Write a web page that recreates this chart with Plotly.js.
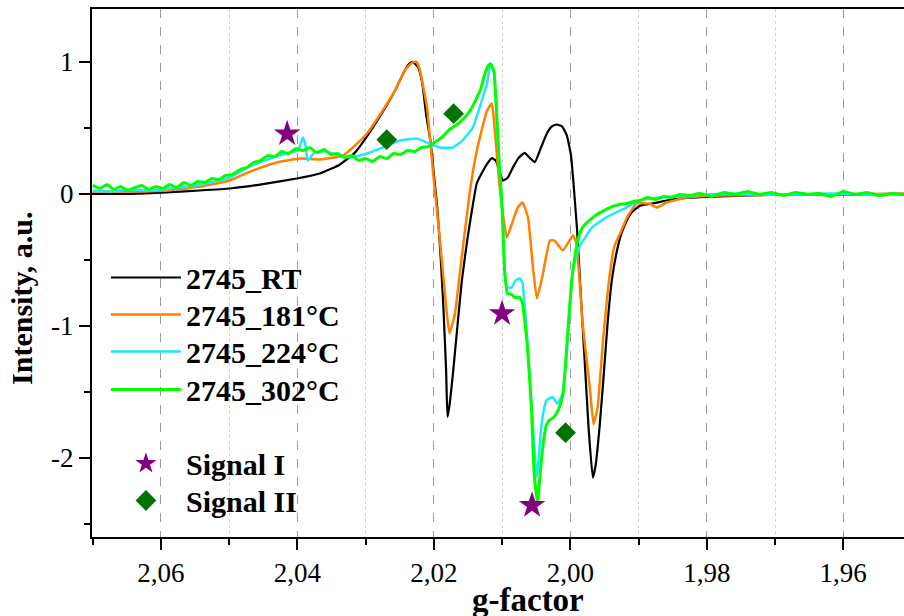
<!DOCTYPE html>
<html>
<head>
<meta charset="utf-8">
<script src="https://cdn.plot.ly/plotly-3.0.1.min.js"></script>
<style>
html,body{margin:0;padding:0;overflow:hidden;background:#fff;}
#chart{width:964px;height:616px;}
</style>
</head>
<body>
<div id="chart"></div>
<script>
// ---- data ----
const seriesNames = ['2745_RT', '2745_181°C', '2745_224°C', '2745_302°C'];
const markerNames = ['Signal I', 'Signal II'];

const gRT = [2.0701,2.0645,2.0600,2.0543,2.0499,2.0455,2.0401,2.0367,2.0338,2.0316,2.0300,2.0275,2.0257,2.0243,2.0235,2.0231,2.0223,2.0217,2.0211,2.0205,2.0199,2.0195,2.0190,2.0186,2.0182,2.0180,2.0177,2.0172,2.0165,2.0159,2.0151,2.0144,2.0137,2.0124,2.0115,2.0109,2.0103,2.0099,2.0092,2.0084,2.0076,2.0067,2.0059,2.0052,2.0043,2.0034,2.0027,2.0020,2.0012,2.0005,1.9999,1.9995,1.9990,1.9985,1.9979,1.9973,1.9967,1.9963,1.9957,1.9951,1.9945,1.9939,1.9932,1.9925,1.9917,1.9910,1.9898,1.9876,1.9854,1.9825,1.9781,1.9722,1.9664,1.9590,1.9511,1.9430];
const iRT = [0.000,0.000,0.008,0.025,0.040,0.070,0.116,0.154,0.220,0.310,0.420,0.620,0.780,0.930,0.990,1.000,0.960,0.840,0.590,0.400,0.100,-0.100,-0.480,-0.860,-1.340,-1.690,-1.600,-1.360,-0.980,-0.660,-0.350,-0.120,0.080,0.210,0.270,0.250,0.160,0.100,0.120,0.200,0.270,0.310,0.270,0.240,0.350,0.460,0.510,0.525,0.510,0.440,0.290,0.060,-0.280,-0.730,-1.260,-1.790,-2.150,-2.060,-1.760,-1.370,-0.960,-0.650,-0.440,-0.300,-0.200,-0.140,-0.090,-0.070,-0.045,-0.030,-0.020,-0.010,-0.005,-0.005,0.000,0.000];

const g181 = [2.0700,2.0645,2.0591,2.0543,2.0499,2.0465,2.0430,2.0396,2.0367,2.0333,2.0319,2.0298,2.0275,2.0257,2.0243,2.0232,2.0226,2.0221,2.0210,2.0201,2.0191,2.0181,2.0177,2.0169,2.0162,2.0147,2.0137,2.0122,2.0115,2.0111,2.0103,2.0093,2.0084,2.0077,2.0070,2.0062,2.0055,2.0049,2.0040,2.0030,2.0023,2.0011,2.0001,1.9996,1.9991,1.9982,1.9971,1.9966,1.9960,1.9952,1.9942,1.9935,1.9927,1.9917,1.9903,1.9884,1.9873,1.9859,1.9829,1.9781,1.9664,1.9511,1.9430];
const i181 = [0.017,0.017,0.025,0.055,0.101,0.177,0.237,0.267,0.260,0.290,0.350,0.457,0.631,0.782,0.933,0.993,1.001,0.949,0.653,0.153,-0.354,-0.906,-1.057,-0.906,-0.603,0.025,0.328,0.631,0.684,0.502,0.025,-0.331,-0.202,-0.104,-0.066,-0.180,-0.543,-0.793,-0.604,-0.354,-0.354,-0.429,-0.354,-0.316,-0.376,-0.982,-1.489,-1.746,-1.618,-1.111,-0.603,-0.391,-0.301,-0.180,-0.074,-0.074,-0.104,-0.066,-0.028,-0.013,-0.005,0.000,0.000];

const g224 = [2.0700,2.0675,2.0646,2.0616,2.0587,2.0558,2.0528,2.0499,2.0470,2.0440,2.0411,2.0399,2.0392,2.0388,2.0385,2.0375,2.0360,2.0338,2.0323,2.0298,2.0275,2.0250,2.0225,2.0210,2.0191,2.0172,2.0158,2.0143,2.0133,2.0122,2.0117,2.0112,2.0109,2.0106,2.0103,2.0100,2.0096,2.0093,2.0086,2.0080,2.0074,2.0070,2.0063,2.0055,2.0049,2.0042,2.0035,2.0026,2.0019,2.0011,2.0004,1.9997,1.9987,1.9968,1.9947,1.9918,1.9898,1.9869,1.9825,1.9767,1.9693,1.9620,1.9512,1.9430];
const i224 = [0.025,0.017,0.033,0.025,0.040,0.055,0.086,0.123,0.207,0.267,0.313,0.328,0.426,0.366,0.252,0.313,0.320,0.290,0.275,0.305,0.351,0.403,0.419,0.388,0.351,0.351,0.403,0.502,0.653,0.835,0.986,0.918,0.706,0.403,0.139,-0.104,-0.581,-0.709,-0.709,-0.656,-0.641,-0.679,-1.111,-1.739,-2.148,-1.739,-1.565,-1.542,-1.588,-1.512,-1.111,-0.603,-0.406,-0.255,-0.179,-0.104,-0.051,-0.028,-0.013,0.002,-0.005,0.002,-0.005,0.000];

const g302 = [2.0700,2.0689,2.0679,2.0669,2.0659,2.0648,2.0638,2.0628,2.0618,2.0607,2.0597,2.0587,2.0577,2.0566,2.0556,2.0546,2.0536,2.0525,2.0515,2.0505,2.0495,2.0484,2.0474,2.0464,2.0454,2.0443,2.0433,2.0423,2.0413,2.0402,2.0392,2.0382,2.0372,2.0361,2.0351,2.0341,2.0331,2.0320,2.0310,2.0300,2.0290,2.0279,2.0269,2.0259,2.0249,2.0238,2.0228,2.0218,2.0208,2.0197,2.0187,2.0177,2.0166,2.0156,2.0146,2.0139,2.0131,2.0126,2.0121,2.0117,2.0112,2.0109,2.0106,2.0103,2.0100,2.0096,2.0092,2.0086,2.0082,2.0074,2.0070,2.0066,2.0063,2.0057,2.0053,2.0048,2.0045,2.0042,2.0038,2.0035,2.0031,2.0026,2.0021,2.0016,2.0011,2.0008,2.0004,2.0001,1.9997,1.9991,1.9987,1.9982,1.9972,1.9961,1.9950,1.9938,1.9928,1.9918,1.9907,1.9898,1.9887,1.9875,1.9863,1.9852,1.9840,1.9825,1.9811,1.9793,1.9775,1.9758,1.9740,1.9723,1.9705,1.9688,1.9670,1.9652,1.9635,1.9617,1.9600,1.9582,1.9565,1.9547,1.9529,1.9512,1.9490,1.9460,1.9430];
const i302 = [0.063,0.040,0.070,0.033,0.055,0.025,0.048,0.063,0.033,0.055,0.040,0.070,0.048,0.086,0.063,0.093,0.086,0.116,0.108,0.139,0.146,0.184,0.199,0.237,0.252,0.290,0.282,0.320,0.305,0.343,0.328,0.351,0.313,0.335,0.298,0.305,0.275,0.290,0.252,0.267,0.245,0.282,0.267,0.305,0.298,0.328,0.320,0.351,0.358,0.396,0.434,0.487,0.525,0.570,0.638,0.706,0.797,0.896,0.964,0.986,0.933,0.706,0.403,0.139,-0.104,-0.603,-0.755,-0.762,-0.785,-0.785,-0.830,-0.997,-1.148,-1.618,-2.117,-2.344,-2.170,-1.996,-1.830,-1.754,-1.716,-1.701,-1.671,-1.618,-1.527,-1.360,-1.073,-0.861,-0.618,-0.406,-0.316,-0.255,-0.202,-0.157,-0.126,-0.096,-0.081,-0.074,-0.058,-0.051,-0.028,-0.043,-0.020,-0.028,-0.005,-0.013,0.002,-0.020,0.010,-0.005,0.017,-0.005,0.010,-0.013,0.010,-0.005,0.002,-0.020,0.017,-0.005,0.010,-0.013,0.002,-0.005,0.012,-0.010,0.004];

const gSignal1 = [2.0415, 2.0100, 2.0056];
const iSignal1 = [0.455, -0.907, -2.36];
const gSignal2 = [2.0269, 2.0171, 2.0007];
const iSignal2 = [0.41, 0.607, -1.81];

const xTickVals = [2.06, 2.04, 2.02, 2.00, 1.98, 1.96];
const xTickText = ['2,06', '2,04', '2,02', '2,00', '1,98', '1,96'];
const xMinorVals = [2.07, 2.05, 2.03, 2.01, 1.99, 1.97, 1.95];
const yTickVals = [-2, -1, 0, 1];
const yTickText = ['-2', '-1', '0', '1'];
const yMinorVals = [-2.5, -1.5, -0.5, 0.5];
const xTitle = 'g-factor';
const yTitle = 'Intensity, a.u.';

// ---- styling ----
const FONT = "'Liberation Serif', 'Times New Roman', Times, serif";
const colors = ['#000000', '#ff8000', '#1ee8ff', '#00ff00'];
const widths = [2.2, 2.5, 2.5, 3];
const xs = [gRT, g181, g224, g302];
const ys = [iRT, i181, i224, i302];
const legendIds = ['legend', 'legend2', 'legend3', 'legend4', 'legend5', 'legend6'];
const legendTops = [0.5407, 0.4706, 0.4006, 0.3286, 0.1884, 0.1184];

const traces = seriesNames.map((n, k) => ({
  type: 'scatter', mode: 'lines', name: n, x: xs[k], y: ys[k],
  line: {color: colors[k], width: widths[k], shape: 'spline', smoothing: 0.4}, legend: legendIds[k]
}));
traces.push({
  type: 'scatter', mode: 'markers', name: markerNames[0], x: gSignal1, y: iSignal1,
  marker: {symbol: 'star', size: 20, color: '#800080'}, legend: legendIds[4]
});
traces.push({
  type: 'scatter', mode: 'markers', name: markerNames[1], x: gSignal2, y: iSignal2,
  marker: {symbol: 'diamond', size: 16, color: '#007300'}, legend: legendIds[5]
});

const legendFont = {family: FONT, size: 30, color: '#000', weight: 'bold'};

const layout = {
  width: 964, height: 616,
  margin: {l: 92, r: 0, t: 9, b: 79, pad: 0},
  paper_bgcolor: '#fff', plot_bgcolor: '#fff',
  font: {family: FONT, size: 27, color: '#000'},
  showlegend: true,
  xaxis: {
    range: [2.0701, 1.9423], autorange: false,
    tickmode: 'array', tickvals: xTickVals, ticktext: xTickText,
    ticks: 'outside', ticklen: 11, tickwidth: 2, tickcolor: '#000',
    showline: true, linewidth: 2, linecolor: '#000', mirror: true,
    showgrid: true, gridcolor: '#9a9a9a', griddash: 'dash', gridwidth: 1,
    zeroline: false,
    minor: {tickmode: 'array', tickvals: xMinorVals, ticks: 'outside', ticklen: 6, tickwidth: 2, tickcolor: '#000',
            showgrid: true, gridcolor: '#cfcfcf', griddash: 'dot', gridwidth: 1},
    tickfont: {family: FONT, size: 27, color: '#000'},
    automargin: false
  },
  yaxis: {
    range: [-2.6, 1.4], autorange: false,
    tickmode: 'array', tickvals: yTickVals, ticktext: yTickText,
    ticks: 'outside', ticklen: 11, tickwidth: 2, tickcolor: '#000',
    showline: true, linewidth: 2, linecolor: '#000', mirror: false,
    showgrid: false, zeroline: false,
    minor: {tickmode: 'array', tickvals: yMinorVals, ticks: 'outside', ticklen: 6, tickwidth: 2, tickcolor: '#000', showgrid: false},
    tickfont: {family: FONT, size: 27, color: '#000'},
    automargin: false
  },
  annotations: [{
    text: yTitle, xref: 'paper', yref: 'paper',
    x: -0.0803, y: 0.4527, xanchor: 'center', yanchor: 'middle',
    textangle: -90, showarrow: false,
    font: {family: FONT, size: 30, color: '#000', weight: 'bold'}
  }, {
    text: xTitle, xref: 'paper', yref: 'paper',
    x: 0.5, y: -0.0814, xanchor: 'center', yanchor: 'top',
    showarrow: false,
    font: {family: FONT, size: 33, color: '#000', weight: 'bold'}
  }]
};

legendIds.forEach((id, k) => {
  layout[id] = {
    x: 0.016, y: legendTops[k], xanchor: 'left', yanchor: 'top',
    bgcolor: 'rgba(0,0,0,0)', borderwidth: 0,
    font: legendFont, itemwidth: 70
  };
});

Plotly.newPlot('chart', traces, layout, {staticPlot: true, displayModeBar: false});
</script>
</body>
</html>
